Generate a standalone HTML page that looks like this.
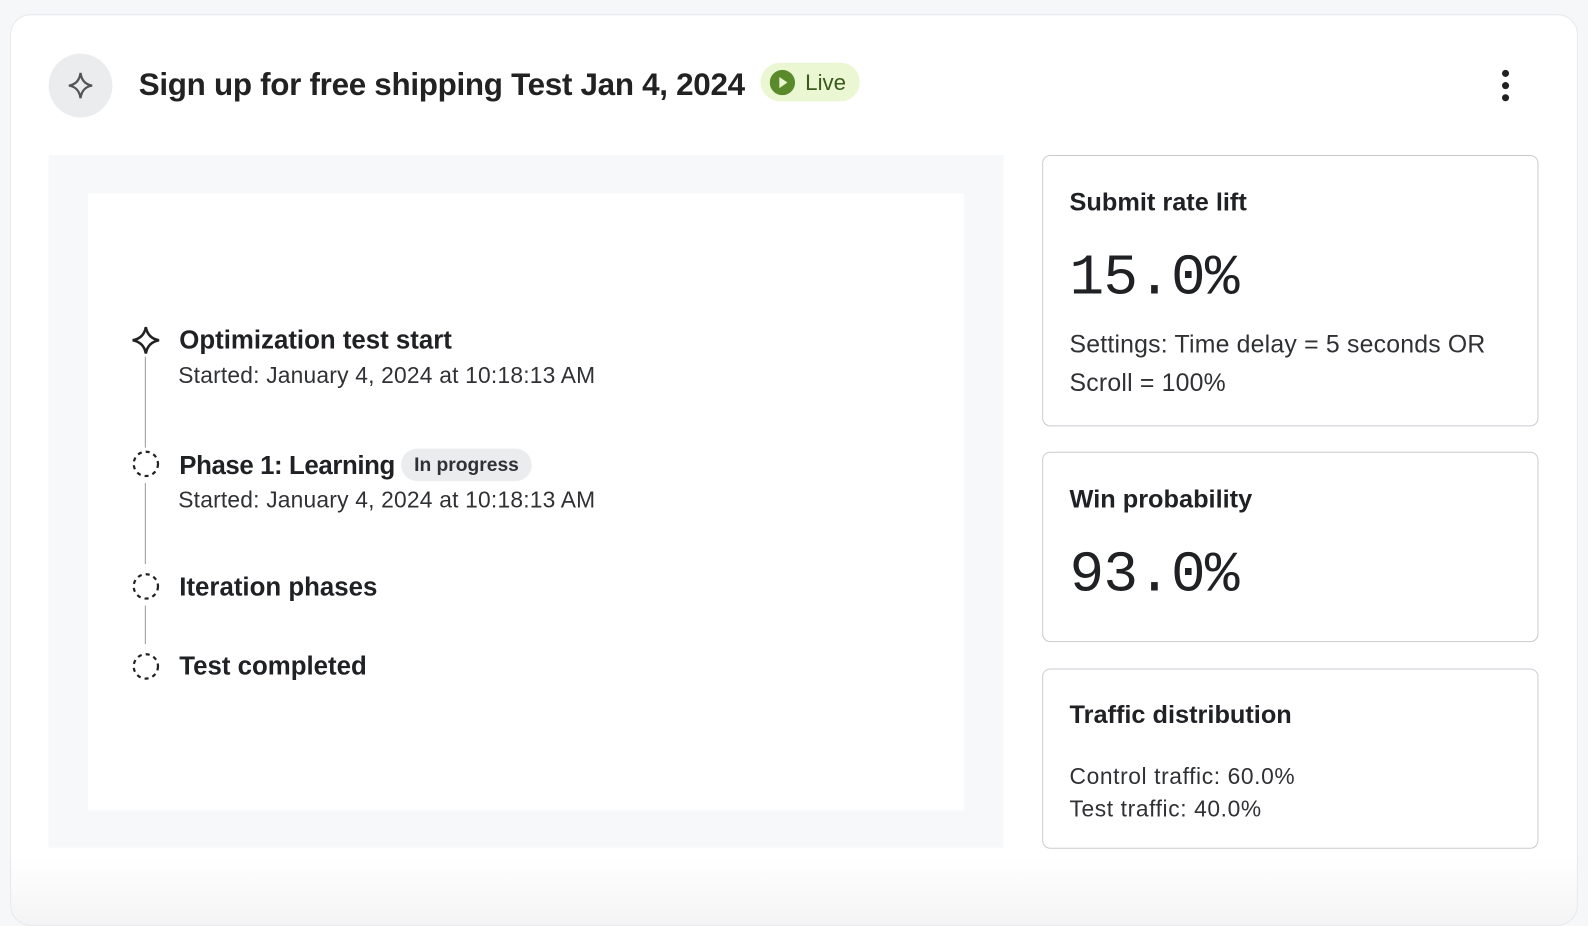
<!DOCTYPE html>
<html><head><style>
*{margin:0;padding:0;box-sizing:border-box}
body{width:1588px;height:898px;background:#f6f7f9;font-family:"Liberation Sans",sans-serif;color:#202124;position:relative;overflow:hidden}
#w{position:absolute;left:0;top:0;width:1568px;height:887px;transform:scale(1.0128);transform-origin:0 0}
.card{position:absolute;left:10px;top:14px;width:1548px;height:900px;background:linear-gradient(#fff 0,#fff 830px,#f4f4f4 898px);border-radius:20px;border:1px solid #e8e9ec}
.a{position:absolute}
.ic{left:48px;top:53px;width:63px;height:63px;border-radius:50%;background:#ebecee}
.title{left:137px;top:66px;font-size:31px;font-weight:bold;letter-spacing:-0.3px;white-space:nowrap;color:#222}
.live{left:751px;top:62px;width:98px;height:38px;border-radius:19px;background:#ebf7d3;color:#3a5a1c;font-size:22px}
.lp{left:48px;top:153px;width:943px;height:684px;background:#f7f8fa}
.li{left:87px;top:191px;width:865px;height:609px;background:#fff}
.h{font-size:25.5px;font-weight:bold;white-space:nowrap}
.s{font-size:22.5px;white-space:nowrap;color:#303134;letter-spacing:0.2px}
.vl{position:absolute;left:143px;width:1px;background:#999}
.rc{position:absolute;left:1029px;width:490px;border:1px solid #c9cbd0;border-radius:8px;background:#fff}
.rt{position:absolute;left:26px;font-size:25px;font-weight:bold}
.big{position:absolute;left:26px;font-family:"Liberation Mono",monospace;font-size:57px;letter-spacing:-0.8px}
.dots{left:1483px;top:69px}
.dots div{width:7px;height:7px;border-radius:50%;background:#222;margin-bottom:5px}
.badge{display:inline-block;vertical-align:3px;margin-left:6px;height:32px;border-radius:16px;background:#ebecee;font-size:19px;font-weight:bold;padding:6px 13px 0;color:#303134}
</style></head><body>
<div id="w">
<div class="card"></div>
<div class="a ic"><svg width="63" height="63" viewBox="0 0 63 63"><path d="M31.5 19 Q33 30 43 31.5 Q33 33 31.5 44 Q30 33 20 31.5 Q30 30 31.5 19Z" fill="none" stroke="#555" stroke-width="2.2"/></svg></div>
<div class="a title">Sign up for free shipping Test Jan 4, 2024</div>
<div class="a live"><svg class="a" style="left:9px;top:7px" width="25" height="25"><circle cx="12.5" cy="12.5" r="12.5" fill="#5a8a2c"/><path d="M9.5 7 L17.5 12.5 L9.5 18Z" fill="#ebf7d3"/></svg><span class="a" style="left:44px;top:7px">Live</span></div>
<div class="a dots"><div></div><div></div><div></div></div>
<div class="a lp"></div>
<div class="a li"></div>
<svg class="a" style="left:128px;top:320px" width="32" height="32"><path d="M16 3 Q18 14 29 16 Q18 18 16 29 Q14 18 3 16 Q14 14 16 3Z" fill="none" stroke="#222" stroke-width="2.5"/></svg>
<div class="vl" style="top:352px;height:90px"></div>
<div class="vl" style="top:477px;height:80px"></div>
<div class="vl" style="top:598px;height:38px"></div>
<svg class="a" style="left:130px;top:444px" width="28" height="28"><circle cx="14" cy="14" r="12" fill="none" stroke="#222" stroke-width="2.2" stroke-dasharray="4 4"/></svg>
<svg class="a" style="left:130px;top:565px" width="28" height="28"><circle cx="14" cy="14" r="12" fill="none" stroke="#222" stroke-width="2.2" stroke-dasharray="4 4"/></svg>
<svg class="a" style="left:130px;top:644px" width="28" height="28"><circle cx="14" cy="14" r="12" fill="none" stroke="#222" stroke-width="2.2" stroke-dasharray="4 4"/></svg>
<div class="a h" style="left:177px;top:322px">Optimization test start</div>
<div class="a s" style="left:176px;top:358px">Started: January 4, 2024 at 10:18:13 AM</div>
<div class="a h" style="left:177px;top:443px;letter-spacing:-0.4px">Phase 1: Learning<span class="badge" style="letter-spacing:0">In progress</span></div>
<div class="a s" style="left:176px;top:481px">Started: January 4, 2024 at 10:18:13 AM</div>
<div class="a h" style="left:177px;top:566px">Iteration phases</div>
<div class="a h" style="left:177px;top:644px">Test completed</div>
<div class="rc" style="top:153px;height:268px"><div class="rt" style="top:32px">Submit rate lift</div><div class="big" style="top:90px">15.0%</div><div class="a s" style="left:26px;top:168px;font-size:24.5px;line-height:38px;white-space:normal;width:450px">Settings: Time delay = 5 seconds OR Scroll = 100%</div></div>
<div class="rc" style="top:446px;height:188px"><div class="rt" style="top:32px">Win probability</div><div class="big" style="top:90px">93.0%</div></div>
<div class="rc" style="top:660px;height:178px"><div class="rt" style="top:31px">Traffic distribution</div><div class="a s" style="left:26px;top:90px;font-size:22.5px;line-height:32px;letter-spacing:0.6px">Control traffic: 60.0%<br>Test traffic: 40.0%</div></div>
</div>
</body></html>
